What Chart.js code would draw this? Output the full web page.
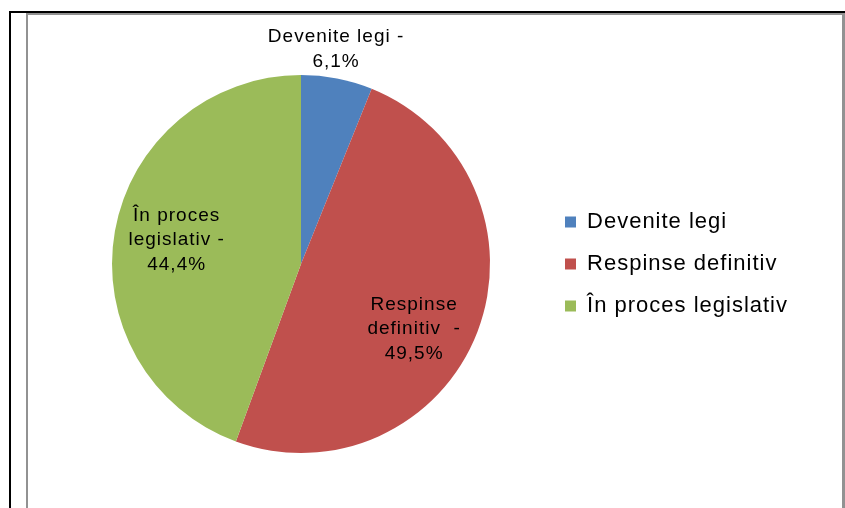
<!DOCTYPE html>
<html>
<head>
<meta charset="utf-8">
<script src="https://cdn.jsdelivr.net/npm/chart.js@4.4.0/dist/chart.umd.min.js"></script>
<style>
  html, body { margin: 0; padding: 0; background: #fff; }
  #chart { display: block; }
</style>
</head>
<body>
<canvas id="chart" width="845" height="508"></canvas>
<script>
const categories = ["Devenite legi", "Respinse definitiv", "În proces legislativ"];
const values = [6.1, 49.5, 44.4];
const labelLines = [["Devenite legi -"], ["Respinse", "definitiv  -"], ["În proces", "legislativ -"]];
const colors = ["#4F81BD", "#C0504D", "#9BBB59"];

// where each data label sits: fraction of radius + nudge off the slice middle (deg)
const labelPlace = [
  { r: 1.15, turn: -1.7 },
  { r: 0.69, turn: 8.8 },
  { r: 0.67, turn: 0.8 },
];

const FONT = "'Liberation Sans', Arial, sans-serif";

const framePlugin = {
  id: "frame",
  beforeLayout(chart) {
    chart.ctx.letterSpacing = "1px";
  },
  beforeDraw(chart) {
    const ctx = chart.ctx;
    const w = chart.width, h = chart.height;
    ctx.save();
    ctx.fillStyle = "#fff";
    ctx.fillRect(0, 0, w, h);
    // outer black frame (left + top)
    ctx.fillStyle = "#000";
    ctx.fillRect(9, 11, 2, h - 11);
    ctx.fillRect(9, 11, w - 9, 2);
    // inner grey chart border
    ctx.fillStyle = "#929292";
    ctx.fillRect(26, 13, 2, h - 13);
    ctx.fillRect(26, 13, w - 28, 2);
    ctx.fillRect(842, 13, 3, h - 13);
    ctx.restore();
    ctx.letterSpacing = "1px";
  },
};

const labelPlugin = {
  id: "sliceLabels",
  afterDatasetsDraw(chart) {
    const ctx = chart.ctx;
    const meta = chart.getDatasetMeta(0);
    const total = values.reduce((s, v) => s + v, 0);
    ctx.save();
    ctx.font = "19px " + FONT;
    ctx.letterSpacing = "1px";
    ctx.fillStyle = "#000";
    ctx.textAlign = "center";
    ctx.textBaseline = "middle";
    meta.data.forEach((arc, i) => {
      const p = arc.getProps(["x", "y", "startAngle", "endAngle", "outerRadius"], true);
      const a = (p.startAngle + p.endAngle) / 2 + (labelPlace[i].turn * Math.PI) / 180;
      const cx = p.x + Math.cos(a) * p.outerRadius * labelPlace[i].r;
      const cy = p.y + Math.sin(a) * p.outerRadius * labelPlace[i].r;
      const pct = ((values[i] / total) * 100).toFixed(1).replace(".", ",") + "%";
      const lines = labelLines[i].concat(pct);
      const lh = 24.5;
      lines.forEach((t, k) => {
        ctx.fillText(t, cx, cy + (k - (lines.length - 1) / 2) * lh);
      });
    });
    ctx.restore();
  },
};

new Chart(document.getElementById("chart"), {
  type: "pie",
  data: {
    labels: categories,
    datasets: [
      {
        data: values,
        backgroundColor: colors,
        borderWidth: 0,
      },
    ],
  },
  options: {
    responsive: false,
    animation: false,
    layout: { padding: { left: 57, right: 47, top: 75, bottom: 55 } },
    plugins: {
      legend: {
        position: "right",
        labels: {
          boxWidth: 11,
          boxHeight: 11,
          padding: 20,
          color: "#000",
          font: { family: FONT, size: 22 },
        },
      },
      tooltip: { enabled: false },
    },
  },
  plugins: [framePlugin, labelPlugin],
});
</script>
</body>
</html>
